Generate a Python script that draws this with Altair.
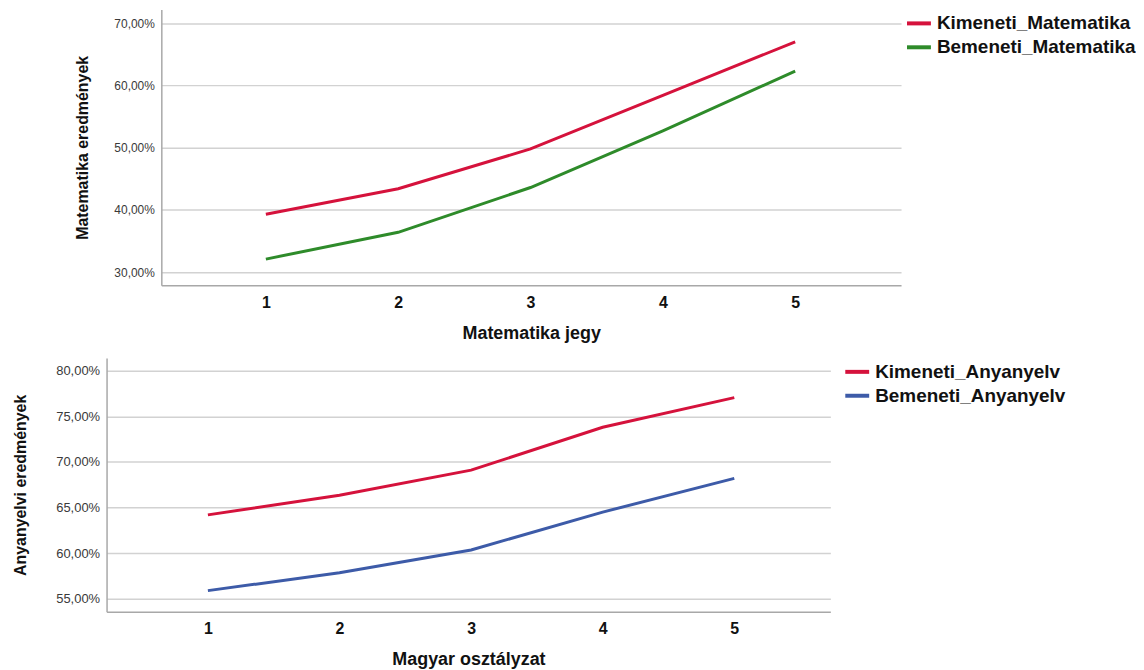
import altair as alt
import pandas as pd

# ---- data ----
grades = [1, 2, 3, 4, 5]

top_series = ["Kimeneti_Matematika", "Bemeneti_Matematika"]
kimeneti_mat = [39.3, 43.4, 49.8, 58.4, 67.0]
bemeneti_mat = [32.1, 36.4, 43.6, 52.7, 62.3]

bottom_series = ["Kimeneti_Anyanyelv", "Bemeneti_Anyanyelv"]
kimeneti_any = [64.2, 66.35, 69.1, 73.8, 77.05]
bemeneti_any = [55.9, 57.85, 60.35, 64.5, 68.2]

top_ticks = [30, 40, 50, 60, 70]
bottom_ticks = [55, 60, 65, 70, 75, 80]

top_colors = ["#d5123c", "#2e8b2a"]
bottom_colors = ["#d5123c", "#3d5ba8"]

df_top = pd.DataFrame({
    "jegy": grades * 2,
    "ertek": kimeneti_mat + bemeneti_mat,
    "sorozat": [top_series[0]] * 5 + [top_series[1]] * 5,
})
df_bottom = pd.DataFrame({
    "jegy": grades * 2,
    "ertek": kimeneti_any + bemeneti_any,
    "sorozat": [bottom_series[0]] * 5 + [bottom_series[1]] * 5,
})

label_expr = "replace(format(datum.value, '.2f'), '.', ',') + '%'"
FONT = "Liberation Sans"


def panel(df, series, colors, ticks, xdom, ydom, xtitle, ytitle, w, h,
          ylabsize, ytitlepad, legend_x):
    return alt.Chart(df).mark_line(strokeWidth=3).encode(
        x=alt.X("jegy:Q",
                scale=alt.Scale(domain=xdom, nice=False, zero=False),
                axis=alt.Axis(values=grades, format="d", title=xtitle,
                              grid=False, ticks=False, labelPadding=9,
                              titlePadding=14, labelFontSize=16,
                              labelFontWeight="bold", titleFontSize=18,
                              titleFontWeight="bold", domainColor="#a8a8a8",
                              domainWidth=1.5, labelColor="#111111",
                              titleColor="#111111", labelFont=FONT,
                              titleFont=FONT)),
        y=alt.Y("ertek:Q",
                scale=alt.Scale(domain=ydom, nice=False, zero=False),
                axis=alt.Axis(values=ticks, labelExpr=label_expr,
                              title=ytitle, grid=True, gridColor="#d2d2d2",
                              gridWidth=1.5, ticks=False, labelPadding=7,
                              titlePadding=ytitlepad, labelFontSize=ylabsize,
                              labelColor="#3a3a3a", titleFontSize=16,
                              titleFontWeight="bold", titleColor="#111111",
                              domainColor="#a8a8a8", domainWidth=1.5,
                              labelFont=FONT, titleFont=FONT)),
        color=alt.Color("sorozat:N",
                        scale=alt.Scale(domain=series, range=colors),
                        legend=alt.Legend(title=None, orient="none",
                                          legendX=legend_x, legendY=0,
                                          padding=0,
                                          symbolType="stroke",
                                          symbolSize=576,
                                          symbolStrokeWidth=4,
                                          labelFontSize=19,
                                          labelFontWeight="bold",
                                          labelColor="#111111",
                                          labelFont=FONT,
                                          labelOffset=4,
                                          labelLimit=400,
                                          rowPadding=-5)),
    ).properties(width=w, height=h)


top = panel(df_top, top_series, top_colors, top_ticks, [0.21, 5.8],
            [27.9, 72.2], "Matematika jegy", "Matematika eredmények",
            743, 277, 12, 23, 747)
bottom = panel(df_bottom, bottom_series, bottom_colors, bottom_ticks,
               [0.23, 5.73], [53.58, 81.4], "Magyar osztályzat",
               "Anyanyelvi eredmények", 727, 255, 13, 27, 740)

spacer = alt.Chart(pd.DataFrame({"s": [0]})).mark_point(opacity=0).encode(
    x=alt.X("s:Q", axis=None), y=alt.Y("s:Q", axis=None)
).properties(width=40, height=10)

row1 = alt.hconcat(spacer, top, spacing=15, bounds="flush").resolve_scale(
    color="independent"
)

chart = alt.vconcat(row1, bottom, spacing=16).resolve_scale(
    color="independent"
).properties(
    padding={"left": 4, "top": 0, "right": 0, "bottom": 0}
).configure(font=FONT).configure_view(stroke="transparent", strokeWidth=0)

chart.save("out.html", embed_options={"renderer": "svg", "actions": False})
